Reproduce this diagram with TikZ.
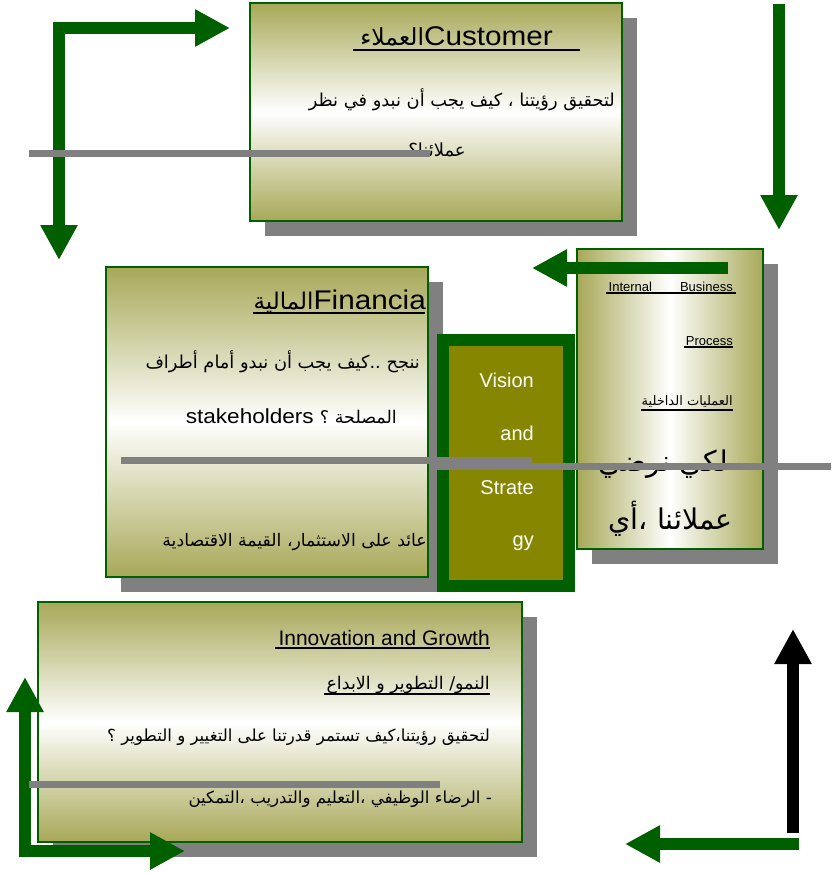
\documentclass[tikz,border=0pt]{standalone}
\usepackage{fontspec}
\setmainfont{Liberation Sans}
\newfontfamily\arfont[Script=Arabic]{DejaVu Sans}
\newfontfamily\widefont[FakeStretch=1.1]{Liberation Sans}
\TeXXeTstate=1
\usetikzlibrary{arrows.meta, shadows}
\definecolor{bscgreen}{RGB}{0,96,0}
\definecolor{bscolive}{RGB}{168,168,88}
\definecolor{bscgray}{RGB}{128,128,128}
\definecolor{visolive}{RGB}{134,134,0}

\begin{document}
\begin{tikzpicture}[x=1pt, y=-1pt,
  card/.style={draw=bscgreen, line width=2pt, top color=bscolive, bottom color=bscolive, middle color=white,
    drop shadow={shadow xshift=15pt, shadow yshift=-15pt, fill=bscgray, opacity=1}, inner sep=0pt},
  txt/.style={inner sep=0pt, anchor=base east},
  ar/.style={txt, font=\arfont\fontsize{#1}{#1}\selectfont},
  uline/.style={line width=1.5pt},
  flow/.style={line width=12pt, draw=bscgreen},
  bar/.style={line width=7pt, draw=bscgray},
  >={Triangle[length=35pt, width=35pt]}]
\useasboundingbox (0,0) rectangle (831,873);

\node[card, minimum width=372pt, minimum height=218pt] (customer) at (436,112) {};
\node[card, minimum width=322pt, minimum height=310pt] (financial) at (267,422) {};
\node[draw=bscgreen, fill=visolive, line width=12pt, minimum width=126pt, minimum height=246pt, inner sep=0pt] (vision) at (506,463) {};
\node[card, left color=bscolive, right color=bscolive, middle color=white, minimum width=186pt, minimum height=300pt] (internal) at (670,399) {};
\node[card, minimum width=484pt, minimum height=240pt] (innovation) at (280,722) {};

\node[txt, font=\widefont\fontsize{27}{27}\selectfont] (custtitle) at (553,45) {{\arfont\fontsize{23.5}{23.5}\selectfont\beginR العملاء\endR}Customer};
\draw[uline] (353,50) -- (580,50);
\node[ar=17.8] (custline) at (615,106) {\beginR لتحقيق رؤيتنا ، كيف يجب أن نبدو في نظر\endR};
\node[ar=18, anchor=base] (custend) at (437,156) {\beginR عملائنا؟\endR};

\node[txt, font=\widefont\fontsize{27}{27}\selectfont] (fintitle) at (426,309) {{\arfont\fontsize{23}{23}\selectfont\beginR المالية\endR}Financia};
\draw[uline] (253,313) -- (425,313);
\node[ar=17.8] (finline1) at (420,368) {\beginR ننجح ..كيف يجب أن نبدو أمام أطراف\endR};
\node[txt, font=\widefont\fontsize{20.5}{20.5}\selectfont] (finline2) at (397,423) {stakeholders {\arfont\fontsize{17.5}{17.5}\selectfont\beginR المصلحة ؟\endR}};
\node[ar=17.3] (finline3) at (427,546) {\beginR عائد على الاستثمار، القيمة الاقتصادية\endR};

\foreach \w/\y in {Vision/387, and/440, Strate/494, gy/546}
  \node[txt, text=white, font=\fontsize{20}{20}\selectfont] (vis\y) at (534,\y) {\w};

\node[txt, font=\fontsize{13}{13}\selectfont] (intline1) at (733,291) {Internal\hspace{28pt}Business};
\draw[uline] (606,293) -- (736,293);
\node[txt, font=\fontsize{13}{13}\selectfont] (intline2) at (733,345) {Process};
\draw[uline] (684,347) -- (733,347);
\node[ar=13] (intline3) at (733,405) {\beginR العمليات الداخلية\endR};
\draw[uline] (641,410) -- (733,410);
\node[ar=28.5] (intline4) at (728,471) {\beginR لكي نرضي\endR};
\node[ar=28.5] (intline5) at (733,529) {\beginR عملائنا ،أي\endR};

\node[txt, font=\fontsize{21}{21}\selectfont] (innotitle) at (490,645) {Innovation and Growth};
\draw[uline] (275,648) -- (490,648);
\node[ar=17.5] (innoline1) at (490,689) {\beginR النمو/ التطوير و الابداع\endR};
\draw[uline] (324,694) -- (490,694);
\node[ar=16.6] (innoline2) at (490,741) {\beginR لتحقيق رؤيتنا،كيف تستمر قدرتنا على التغيير و التطوير ؟\endR};
\node[ar=16.6] (innoline3) at (492,803) {\beginR - الرضاء الوظيفي ،التعليم والتدريب ،التمكين\endR};

\coordinate (tlcorner) at (59,28);
\coordinate (tlright) at (230,28);
\coordinate (tldown) at (59,260);
\coordinate (trtop) at (779,4);
\coordinate (trtip) at (779,230);
\coordinate (midstart) at (728,268);
\coordinate (midtip) at (532,268);
\coordinate (blcorner) at (25,851);
\coordinate (blup) at (25,677);
\coordinate (blright) at (185,851);
\coordinate (brbottom) at (793,833);
\coordinate (brup) at (793,629);
\coordinate (brstart) at (799,844);
\coordinate (brleft) at (625,844);

\draw[flow, <->] (tlright) -- (tlcorner) -- (tldown);
\draw[flow, ->] (trtop) -- (trtip);
\draw[flow, ->] (midstart) -- (midtip);
\draw[flow, <->] (blup) -- (blcorner) -- (blright);
\draw[flow, draw=black, ->] (brbottom) -- (brup);
\draw[flow, ->] (brstart) -- (brleft);

\draw[bar] (29,153) -- (430,153);
\draw[bar] (121,460) -- (532,460);
\draw[bar] (430,466) -- (831,466);
\draw[bar] (29,784) -- (440,784);
\end{tikzpicture}
\end{document}
